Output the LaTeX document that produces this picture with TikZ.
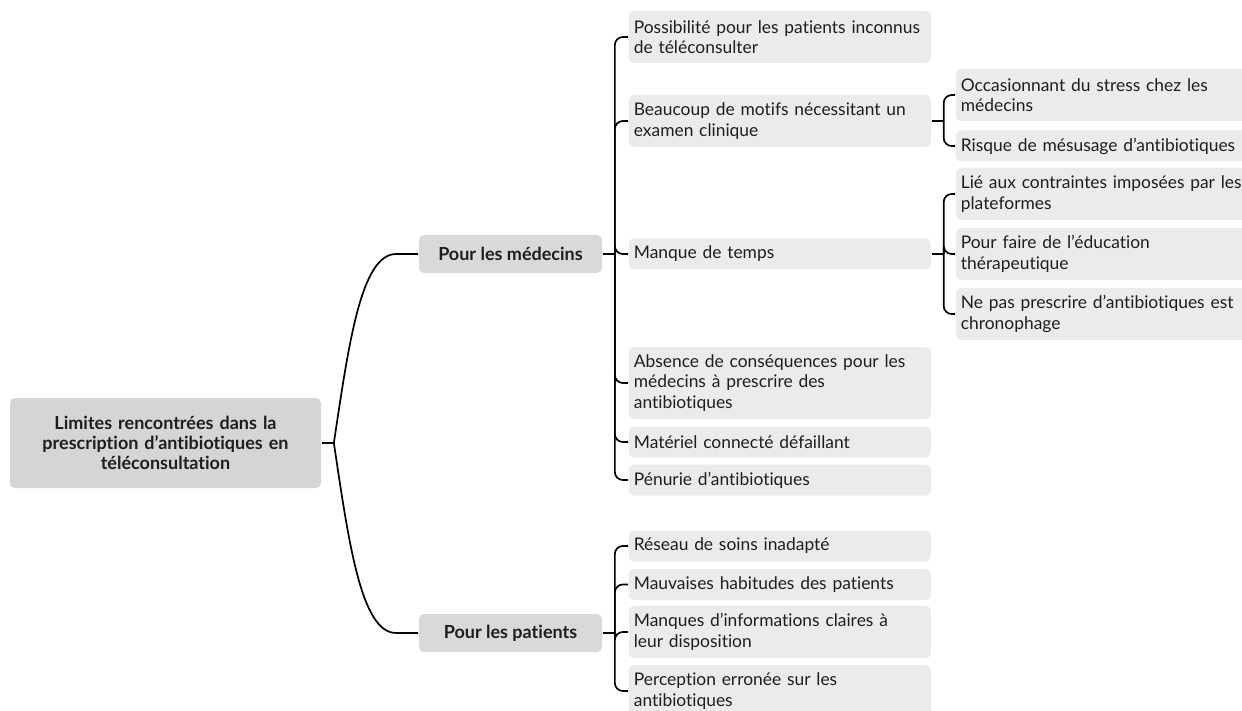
\documentclass[tikz,border=0pt]{standalone}
\usepackage{fontspec}
\setmainfont{Lato}[Ligatures={NoCommon, NoRare}]
\usetikzlibrary{positioning}

\definecolor{topicgray}{HTML}{D5D5D5}
\definecolor{branchgray}{HTML}{D9D9D9}
\definecolor{leafgray}{HTML}{EBEBEB}
\definecolor{inkgray}{HTML}{1E1E1E}

\begin{document}
\begin{tikzpicture}[
            x = 1pt, y = -1pt, % pixel grid, y goes down
            line width = 1.7pt, % line style
            every node/.style = {text = inkgray, font = \fontsize{17.4}{20.5}\selectfont}
        ]

        \tikzstyle{topic}=[
            fill = topicgray,
            rounded corners = 5pt,
            font = \fontsize{18}{20}\selectfont\bfseries,
            align = center,
            text width = 301pt,
            inner xsep = 5pt,
            minimum height = 90pt
        ]
        \tikzstyle{branch}=[
            fill = branchgray,
            rounded corners = 5pt,
            font = \fontsize{18}{20}\selectfont\bfseries,
            minimum width = 183pt,
            minimum height = 38pt
        ]
        \tikzstyle{leaf}=[
            fill = leafgray,
            rounded corners = 5pt,
            anchor = west,
            align = left,
            text width = 292pt,
            inner xsep = 5pt,
            inner ysep = 3pt,
            minimum height = 31pt
        ]
        \tikzstyle{leaftwo}=[leaf, minimum height = 52pt]
        \tikzstyle{leafthree}=[leaf, minimum height = 72pt]
        \tikzstyle{link}=[rounded corners = 8pt]

        \useasboundingbox (0,0) rectangle (1242,711);

        % centre and first level
        \node[topic] (limits) at (165.5,443) {Limites rencontrées dans la\\prescription d’antibiotiques en\\téléconsultation};
        \node[branch] (med) at (510.5,254) {Pour les médecins};
        \node[branch] (pat) at (510.5,633) {Pour les patients};

        % pour les médecins
        \node[leaftwo] (inconnus) at (628,37) {Possibilité pour les patients inconnus\\de téléconsulter};
        \node[leaftwo] (motifs) at (628,121) {Beaucoup de motifs nécessitant un\\examen clinique};
        \node[leaf] (temps) at (628,254) {Manque de temps};
        \node[leafthree] (absence) at (628,383) {Absence de conséquences pour les\\médecins à prescrire des\\antibiotiques};
        \node[leaf] (materiel) at (628,442) {Matériel connecté défaillant};
        \node[leaf] (penurie) at (628,480) {Pénurie d’antibiotiques};

        % pour les patients
        \node[leaf] (reseau) at (628,546) {Réseau de soins inadapté};
        \node[leaf] (habitudes) at (628,584.5) {Mauvaises habitudes des patients};
        \node[leaftwo] (infos) at (628,632) {Manques d’informations claires à\\leur disposition};
        \node[leaftwo] (perception) at (628,691) {Perception erronée sur les\\antibiotiques};

        % third level
        \node[leaftwo, text width = 292pt] (stress) at (955,95) {Occasionnant du stress chez les\\médecins};
        \node[leaf, text width = 292pt] (mesusage) at (955,146) {Risque de mésusage d’antibiotiques};
        \node[leaftwo, text width = 292pt] (plateformes) at (955,194) {Lié aux contraintes imposées par les\\plateformes};
        \node[leaftwo, text width = 292pt] (education) at (955,254) {Pour faire de l’éducation\\thérapeutique};
        \node[leaftwo, text width = 292pt] (chrono) at (955,314) {Ne pas prescrire d’antibiotiques est\\chronophage};

        % junction points
        \coordinate (limitsbar) at ([xshift=12pt]limits.east);
        \coordinate (medbar) at ([xshift=12pt]med.east);
        \coordinate (patbar) at ([xshift=12pt]pat.east);
        \coordinate (motifsbar) at ([xshift=12pt]motifs.east);
        \coordinate (tempsbar) at ([xshift=12pt]temps.east);

        \draw (limits.east) -- (limitsbar);
        \draw (limitsbar) .. controls +(15,-100) and +(-35,0) .. ([xshift=-22pt]med.west) -- (med.west);
        \draw (limitsbar) .. controls +(15,100) and +(-35,0) .. ([xshift=-22pt]pat.west) -- (pat.west);

        \draw (med.east) -- (medbar);
        \draw[link] (medbar) |- (inconnus.west);
        \draw[link] (medbar) |- (motifs.west);
        \draw[link] (medbar) |- (temps.west);
        \draw[link] (medbar) |- (absence.west);
        \draw[link] (medbar) |- (materiel.west);
        \draw[link] (medbar) |- (penurie.west);

        \draw (pat.east) -- (patbar);
        \draw[link] (patbar) |- (reseau.west);
        \draw[link] (patbar) |- (habitudes.west);
        \draw[link] (patbar) |- (infos.west);
        \draw[link] (patbar) |- (perception.west);

        \draw (motifs.east) -- (motifsbar);
        \draw[link] (motifsbar) |- (stress.west);
        \draw[link] (motifsbar) |- (mesusage.west);

        \draw (temps.east) -- (tempsbar);
        \draw[link] (tempsbar) |- (plateformes.west);
        \draw[link] (tempsbar) |- (education.west);
        \draw[link] (tempsbar) |- (chrono.west);
    \end{tikzpicture}
\end{document}
